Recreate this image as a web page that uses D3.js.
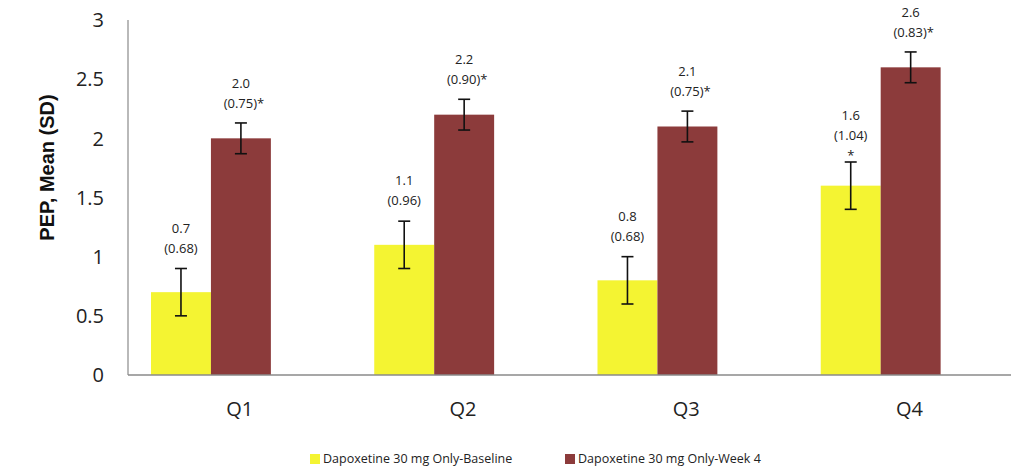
<!DOCTYPE html>
<html>
<head>
<meta charset="utf-8">
<script src="https://cdn.jsdelivr.net/npm/d3@7"></script>
<style>
  body { margin: 0; background: #fff; }
  svg { display: block; }
</style>
</head>
<body>
<div id="chart"></div>
<script>
// datos
const quarters = ["Q1", "Q2", "Q3", "Q4"];
const seriesNames = ["Dapoxetine 30 mg Only-Baseline", "Dapoxetine 30 mg Only-Week 4"];
const baselineMeans = [0.7, 1.1, 0.8, 1.6];
const baselineSD = ["0.68", "0.96", "0.68", "1.04"];
const baselineStar = [false, false, false, true];
const baselineErr = [0.2, 0.2, 0.2, 0.2];
const week4Means = [2.0, 2.2, 2.1, 2.6];
const week4SD = ["0.75", "0.90", "0.75", "0.83"];
const week4Star = [true, true, true, true];
const week4Err = [0.13, 0.13, 0.13, 0.13];
const yTicks = [0, 0.5, 1, 1.5, 2, 2.5, 3];
const colors = ["#f4f432", "#8c3b3b"];

const width = 1011, height = 473;
const margin = { top: 20, left: 128, bottom: 98 };

const svg = d3.select("#chart").append("svg")
  .attr("width", width)
  .attr("height", height);

const font = "'Open Sans', sans-serif";

const y = d3.scaleLinear().domain([0, 3]).range([height - margin.bottom, margin.top]);
const x = d3.scaleBand().domain(quarters).range([margin.left, 1021]);
const bw = x.bandwidth();
const xs = d3.scaleBand().domain([0, 1]).range([0.103 * bw, 0.64 * bw]);

// datos por barra
const bars = [];
quarters.forEach((q, i) => {
  bars.push({ q, s: 0, v: baselineMeans[i], sd: baselineSD[i], star: baselineStar[i], err: baselineErr[i] });
  bars.push({ q, s: 1, v: week4Means[i], sd: week4SD[i], star: week4Star[i], err: week4Err[i] });
});

// barras
svg.append("g")
  .selectAll("rect")
  .data(bars)
  .join("rect")
  .attr("x", d => x(d.q) + xs(d.s))
  .attr("y", d => y(d.v))
  .attr("width", xs.bandwidth())
  .attr("height", d => y(0) - y(d.v))
  .attr("fill", d => colors[d.s]);

// ejes
svg.append("line")
  .attr("x1", margin.left).attr("x2", margin.left)
  .attr("y1", y(3)).attr("y2", y(0))
  .attr("stroke", "#8a8a8a").attr("stroke-width", 1.2);
svg.append("line")
  .attr("x1", margin.left).attr("x2", width)
  .attr("y1", y(0)).attr("y2", y(0))
  .attr("stroke", "#8a8a8a").attr("stroke-width", 1.5);

// barras de error
const eb = svg.append("g").attr("stroke", "#111").attr("stroke-width", 1.6);
bars.forEach(d => {
  const cx = x(d.q) + xs(d.s) + xs.bandwidth() / 2;
  eb.append("line").attr("x1", cx).attr("x2", cx).attr("y1", y(d.v - d.err)).attr("y2", y(d.v + d.err));
  eb.append("line").attr("x1", cx - 6).attr("x2", cx + 6).attr("y1", y(d.v + d.err)).attr("y2", y(d.v + d.err));
  eb.append("line").attr("x1", cx - 6).attr("x2", cx + 6).attr("y1", y(d.v - d.err)).attr("y2", y(d.v - d.err));
});

// etiquetas de valores
const lbl = svg.append("g")
  .attr("font-family", font)
  .attr("font-size", 13)
  .attr("fill", "#222")
  .attr("text-anchor", "middle");
bars.forEach(d => {
  const cx = x(d.q) + xs(d.s) + xs.bandwidth() / 2;
  const cap = y(d.v + d.err);
  const sdText = "(" + d.sd + ")" + (d.star && d.s === 1 ? "*" : "");
  let base = cap - (d.s === 0 ? 16 : 15);
  if (d.s === 0 && d.star) {
    // asterisco en su propia linea
    lbl.append("text").attr("x", cx).attr("y", cap - 2).text("*");
    base = cap - 22;
  }
  lbl.append("text").attr("x", cx + (d.s === 1 ? 3 : 0)).attr("y", base).text(sdText);
  lbl.append("text").attr("x", cx).attr("y", base - 20).text(d.v.toFixed(1));
});

// ticks eje y
svg.append("g")
  .attr("font-family", font)
  .attr("font-size", 20)
  .attr("fill", "#222")
  .attr("text-anchor", "end")
  .selectAll("text")
  .data(yTicks)
  .join("text")
  .attr("x", 104)
  .attr("y", d => y(d))
  .attr("dy", "0.36em")
  .text(d => d);

// categorias
svg.append("g")
  .attr("font-family", font)
  .attr("font-size", 20)
  .attr("fill", "#222")
  .attr("text-anchor", "middle")
  .selectAll("text")
  .data(quarters)
  .join("text")
  .attr("x", d => x(d) + bw / 2)
  .attr("y", 416)
  .text(d => d);

// titulo eje y
svg.append("text")
  .attr("transform", `translate(54,${(y(0) + y(3)) / 2 - 30}) rotate(-90)`)
  .attr("text-anchor", "middle")
  .attr("font-family", "'Liberation Sans', Arial, sans-serif")
  .attr("font-weight", "bold")
  .attr("font-size", 20)
  .attr("fill", "#111")
  .text("PEP, Mean (SD)");

// leyenda
const legendX = [310, 565];
const legend = svg.append("g")
  .selectAll("g")
  .data(seriesNames)
  .join("g")
  .attr("transform", (d, i) => `translate(${legendX[i]},454)`);
legend.append("rect")
  .attr("width", 10).attr("height", 10)
  .attr("fill", (d, i) => colors[i]);
legend.append("text")
  .attr("x", 13).attr("y", 5)
  .attr("dy", "0.35em")
  .attr("font-family", font)
  .attr("font-size", 12.5)
  .attr("fill", "#222")
  .text(d => d);
</script>
</body>
</html>
